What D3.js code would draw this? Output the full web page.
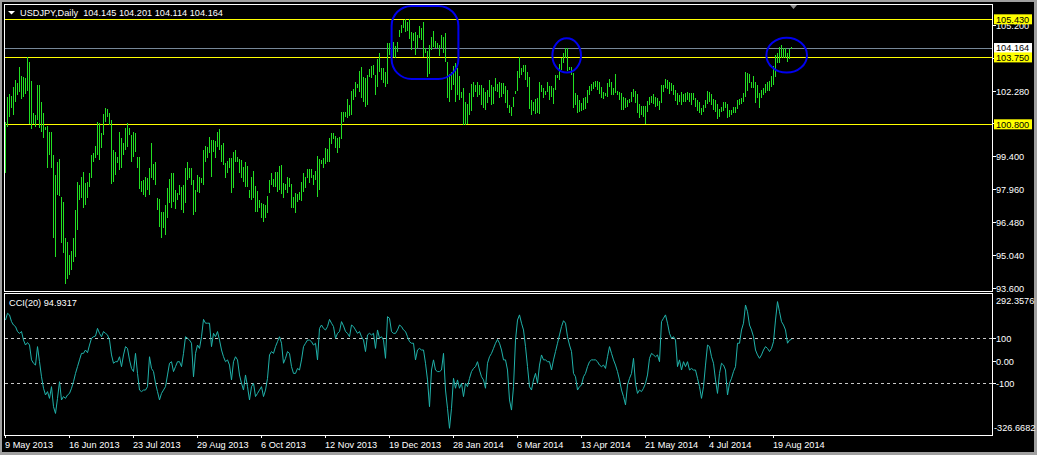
<!DOCTYPE html>
<html><head><meta charset="utf-8">
<script src="https://cdn.jsdelivr.net/npm/d3@7"></script>
<style>html,body{margin:0;padding:0;background:#000;overflow:hidden}svg{display:block}</style>
</head><body>
<svg id="c" width="1037" height="455"></svg>
<script>
// ---------- DATA ----------
const symbolTitle = "USDJPY,Daily  104.145 104.201 104.114 104.164";
const cciTitle = "CCI(20) 94.9317";
const highs = [
100.89,101.99,102.12,102.06,102.46,102.75,102.61,103.34,102.93,102.90,
102.86,103.75,103.56,102.71,101.28,101.21,102.53,102.53,101.77,101.28,
100.70,100.74,100.48,100.48,99.45,98.57,99.15,99.27,97.61,97.39,
95.77,95.60,95.04,95.21,95.77,97.02,98.27,98.12,98.49,98.71,
98.20,98.27,98.64,99.45,99.52,99.86,100.89,100.84,100.40,101.24,
101.51,101.48,101.28,100.99,99.65,99.59,99.37,100.48,100.18,99.96,
100.62,100.84,100.62,100.33,100.48,100.40,99.37,99.37,98.30,98.34,
98.49,98.45,98.86,99.99,99.04,99.15,97.54,97.51,96.95,96.95,
97.24,98.01,98.39,98.64,98.67,97.90,97.76,98.12,98.05,98.12,
98.89,99.15,98.86,98.86,98.34,97.90,98.57,98.49,98.45,99.67,
99.84,99.81,100.23,100.11,100.11,100.06,100.45,100.59,99.89,99.96,
99.08,99.18,99.33,99.30,99.59,99.67,99.37,99.27,99.23,98.93,
99.15,98.96,97.90,98.49,98.74,98.08,97.87,97.46,97.31,97.27,
97.24,97.65,98.34,98.64,98.39,98.71,98.71,98.98,99.01,98.20,
98.15,98.49,98.45,98.17,97.61,97.76,97.71,97.80,98.27,98.64,
98.49,98.83,98.83,98.83,98.57,98.74,99.40,99.27,99.23,99.33,
99.77,99.71,100.21,100.40,100.40,100.30,100.18,100.26,101.33,101.36,
101.33,101.92,101.65,102.27,102.36,102.65,102.56,103.15,103.34,102.90,
102.86,102.98,103.24,103.37,103.42,102.98,103.68,103.93,103.30,103.27,
103.12,104.37,104.37,104.64,104.45,104.27,104.42,104.96,105.18,105.40,
105.44,105.33,105.43,104.89,104.83,104.89,104.74,105.15,105.06,105.33,
104.15,104.03,104.30,104.67,104.92,104.47,104.37,104.30,104.74,104.67,
104.81,103.56,103.00,103.12,103.39,103.49,103.30,102.93,102.21,102.39,
101.80,101.70,102.17,102.56,102.65,102.53,102.68,102.53,102.53,102.39,
102.21,102.31,102.75,102.53,102.46,102.83,102.56,102.65,102.61,102.61,
102.49,102.31,101.65,101.58,102.02,102.27,103.15,103.75,103.30,103.42,
103.42,103.12,102.90,101.87,101.80,101.90,101.98,102.65,102.53,102.39,
102.27,102.65,102.50,102.49,102.39,102.98,102.98,103.45,103.71,103.93,
104.15,104.15,103.34,103.34,103.05,102.17,102.09,101.87,101.75,101.98,
102.02,102.31,102.49,102.56,102.65,102.71,102.71,102.68,102.46,102.21,
102.17,102.61,102.80,102.65,102.39,103.02,102.27,102.21,102.17,102.02,
101.95,101.87,101.92,102.21,102.36,102.27,102.12,101.68,101.62,101.62,
101.62,101.83,102.02,102.06,102.12,102.02,101.95,101.83,102.53,102.53,
102.80,102.75,102.68,102.61,102.53,102.31,102.17,102.09,102.21,102.12,
102.17,102.21,102.17,102.17,102.17,101.95,101.87,101.77,101.51,101.65,
101.87,102.27,102.21,102.12,101.92,101.87,101.68,101.48,101.58,101.77,
101.80,101.68,101.43,101.43,101.58,101.58,101.87,101.92,101.95,102.17,
103.12,103.05,103.00,102.68,102.95,102.65,102.53,102.17,102.31,102.39,
102.56,102.68,102.71,102.95,103.37,103.86,103.93,104.22,104.30,104.18,
104.15,103.96,104.12,104.201];
const lows = [
98.64,100.70,101.14,101.51,101.21,101.80,102.09,102.24,101.92,102.02,
102.12,102.27,100.80,100.59,100.80,100.70,100.99,100.65,100.48,100.18,
100.55,98.86,99.45,98.86,95.77,94.96,97.68,97.65,95.55,95.11,
93.74,93.98,94.16,94.38,94.74,94.96,96.14,97.46,97.57,97.10,
97.24,97.57,98.05,98.42,99.15,99.30,99.45,99.23,99.74,100.33,
100.92,101.14,100.77,98.17,98.27,98.57,99.08,98.79,98.86,99.45,
99.67,99.81,100.33,99.15,99.37,99.59,98.86,97.95,97.83,97.68,
97.61,97.90,97.68,98.42,98.34,98.12,97.02,96.29,95.77,96.21,
95.92,96.65,97.31,97.10,97.39,97.06,97.46,97.68,97.02,96.87,
97.31,98.34,98.42,98.12,96.80,96.95,97.83,97.76,98.20,98.12,
99.15,99.30,99.52,98.49,99.59,99.30,99.81,99.67,99.15,99.01,
98.42,98.64,98.86,97.76,97.98,99.15,99.15,98.64,98.42,98.27,
98.05,98.05,97.54,97.46,97.54,96.95,96.92,97.10,96.65,96.51,
96.65,96.87,97.76,98.12,98.05,98.05,97.83,97.90,97.71,97.54,
97.90,97.76,98.05,97.12,97.12,96.90,97.39,97.46,97.42,97.83,
97.98,98.42,98.20,98.42,98.12,98.34,97.61,97.90,99.04,98.89,
99.04,99.12,99.12,99.92,100.15,99.74,99.55,99.74,100.15,100.92,
101.14,101.09,101.18,101.21,101.87,102.02,102.39,102.21,101.95,101.80,
101.58,101.65,102.90,102.83,102.98,102.09,102.46,103.12,102.75,102.61,
102.46,102.56,103.86,103.71,103.78,103.71,104.00,104.67,104.81,105.03,
104.89,104.92,104.56,104.08,104.47,103.86,104.15,104.59,104.52,103.78,
103.93,102.90,103.00,104.08,104.22,104.15,104.15,103.83,104.15,103.93,
103.56,101.98,101.77,102.31,102.53,101.80,102.09,101.87,101.95,100.77,
100.77,100.80,101.21,101.39,102.02,102.21,102.02,102.09,101.65,101.51,
101.43,101.73,102.02,101.65,101.68,102.27,102.24,101.95,102.02,102.12,
101.73,101.53,101.28,101.18,101.58,102.12,102.27,102.83,102.98,103.12,
102.75,102.46,101.48,101.21,101.39,101.24,101.28,101.24,102.21,101.98,
102.09,102.21,101.87,102.02,101.68,102.31,102.83,102.75,103.20,103.49,
103.71,103.17,103.20,102.98,101.53,101.65,101.31,101.36,101.39,101.43,
101.48,101.73,102.09,102.27,102.36,102.46,102.31,102.12,101.98,101.92,
102.06,102.02,102.46,102.09,102.09,102.17,102.09,101.87,101.43,101.43,
101.51,101.58,101.73,101.80,102.02,101.73,101.28,101.06,101.21,101.14,
100.81,101.33,101.65,101.73,101.68,101.58,101.62,101.43,101.73,102.24,
102.39,102.36,102.12,102.27,102.09,101.83,101.65,101.80,101.65,101.77,
101.77,101.87,101.80,101.65,101.87,101.58,101.39,101.28,101.21,101.36,
101.53,101.68,101.80,101.65,101.43,101.33,101.03,101.14,101.36,101.39,
101.51,101.06,101.14,101.21,101.28,101.28,101.48,101.65,101.68,101.80,
102.02,102.27,102.61,102.42,102.39,101.73,101.98,101.51,101.95,102.09,
102.17,102.27,102.27,102.46,102.53,102.90,103.49,103.49,103.74,103.74,
103.74,103.53,103.68,104.114];
const cci = [
181,211,204,174,159,152,130,122,130,92,
70,81,70,4,-11,-19,63,-4,-71,-122,
-152,-137,-167,-115,-204,-234,-167,-93,-174,-159,
-167,-152,-145,-122,-93,-56,-26,4,33,33,
48,36,70,100,107,110,144,122,107,130,
122,115,92,26,-11,-4,-4,18,-26,26,
63,55,4,-34,-48,33,-56,-130,-137,-130,
-130,-115,18,-34,-48,-100,-137,-174,-145,-130,
-115,-63,-11,-4,-48,-26,-4,-4,-26,33,
107,100,92,78,-71,33,70,55,107,184,
167,167,167,63,122,107,130,92,48,18,
-4,4,-19,-85,-4,18,4,-63,-100,-130,
-63,-115,-174,-115,-100,-159,-145,-130,-115,-159,
-130,-78,26,41,33,63,85,107,78,-11,
11,41,33,-26,-56,-56,-34,-41,4,63,
78,92,92,85,70,78,4,144,159,144,
137,152,184,167,152,100,122,130,174,155,
130,122,107,159,152,137,122,130,107,92,
41,115,122,115,122,55,137,100,107,92,
11,196,189,130,122,122,137,159,152,137,
130,107,85,78,78,4,48,55,48,48,
-11,-85,-204,-41,4,-41,-48,-48,-41,33,
-130,-211,-300,-211,-78,-122,-85,-122,-100,-159,
-100,-115,-78,-48,-34,-26,-4,-41,-71,-85,
-122,-11,18,33,55,78,95,78,48,4,
4,-41,-174,-219,-115,92,181,204,167,137,
63,-26,-115,-130,-85,-56,-100,-19,26,4,
4,-4,-4,-41,4,41,78,115,152,178,
167,107,70,41,-56,-71,-130,-115,-108,-71,
-56,-26,-4,4,4,4,-4,-19,-26,-19,
-34,18,63,33,4,-19,-48,-85,-130,-159,
-196,-108,-78,-56,11,-100,-145,-130,-137,-122,
-100,-63,11,33,26,18,26,-4,174,189,
204,167,122,100,107,92,-26,4,-41,-4,
-26,-4,-41,-34,-41,-41,-78,-115,-167,-115,
-19,70,63,18,-11,-85,-145,-56,-11,-19,
-41,-152,-100,-78,-48,-26,78,78,137,167,
248,218,159,137,107,48,26,11,26,48,
63,55,41,55,85,181,263,218,174,159,
137,78,92,94.9317];
const dateLabels = ["9 May 2013","16 Jun 2013","23 Jul 2013","29 Aug 2013","6 Oct 2013","12 Nov 2013","19 Dec 2013","28 Jan 2014","6 Mar 2014","13 Apr 2014","21 May 2014","4 Jul 2014","19 Aug 2014"];
const dateLabelBars = [0,32,64,96,128,160,192,224,256,288,320,352,384];
const priceTicks = [105.2,103.74,102.28,100.84,99.4,97.96,96.48,95.04,93.6];
const yellowLevels = [105.43,103.75,100.8];
const bidPrice = 104.164;
const cciLevels = [100,-100];
const cciTickVals = [100,0,-100];
const cciTickText = ["100","0.00","-100"];
const cciMax = 292.3576, cciMin = -326.6682;
// annotations: [startBar, endBar, topPrice, bottomPrice]
const boxNote = [193.3,226.7,106.02,102.80];
const ellipseNotes = [[273.7,288,104.59,103.08],[380.7,401,104.62,103.08]];

// ---------- DRAW ----------
const svg = d3.select("#c");
const FONT = "'Liberation Sans', Arial, sans-serif";
const W = 1037, H = 455;
const L = 4.5, R = 992.5, mainTop = 4.5, mainBot = 291, cciTop = 293.5, cciBot = 435;

svg.append("rect").attr("width",W).attr("height",H).attr("fill","#000");
// window chrome
svg.append("rect").attr("x",0).attr("y",0).attr("width",W).attr("height",2).attr("fill","#a0a0a0");
svg.append("rect").attr("x",0).attr("y",0).attr("width",2).attr("height",H).attr("fill","#a0a0a0");
svg.append("rect").attr("x",W-3).attr("y",0).attr("width",3).attr("height",H).attr("fill","#a0a0a0");
svg.append("rect").attr("x",0).attr("y",H-3).attr("width",W).attr("height",3).attr("fill","#a0a0a0");

const x = d3.scaleLinear().domain([0, highs.length-1]).range([5, 5 + 2*(highs.length-1)]);
const y = d3.scaleLinear().domain([93.449, 106.061]).range([mainBot, 5]);
const yc = d3.scaleLinear().domain([cciMin, cciMax]).range([434.3, 295]);

const px = i => Math.round(x(i)) + 0.5;

// main panel
const gMain = svg.append("g");
gMain.selectAll("line.lvl").data(yellowLevels).join("line")
  .attr("x1",5).attr("x2",R).attr("y1",d=>Math.round(y(d))+0.5).attr("y2",d=>Math.round(y(d))+0.5)
  .attr("stroke","#ffff00").attr("stroke-width",1).attr("shape-rendering","crispEdges");
gMain.append("line").attr("x1",5).attr("x2",R).attr("y1",Math.round(y(bidPrice))+0.5).attr("y2",Math.round(y(bidPrice))+0.5)
  .attr("stroke","#778899").attr("shape-rendering","crispEdges");

gMain.selectAll("line.bar").data(highs).join("line").attr("class","bar")
  .attr("x1",(d,i)=>px(i)).attr("x2",(d,i)=>px(i))
  .attr("y1",d=>y(d)).attr("y2",(d,i)=>Math.max(y(lows[i]), y(d)+1))
  .attr("stroke","#22e022").attr("stroke-width",1).attr("shape-rendering","crispEdges");

// annotations
svg.append("rect").attr("x",x(boxNote[0])).attr("y",y(boxNote[2]))
  .attr("width",x(boxNote[1])-x(boxNote[0])).attr("height",y(boxNote[3])-y(boxNote[2]))
  .attr("rx",20).attr("ry",20).attr("fill","none").attr("stroke","#0000ee").attr("stroke-width",2);
svg.selectAll("ellipse.note").data(ellipseNotes).join("ellipse")
  .attr("cx",d=>(x(d[0])+x(d[1]))/2).attr("cy",d=>(y(d[2])+y(d[3]))/2)
  .attr("rx",d=>(x(d[1])-x(d[0]))/2).attr("ry",d=>(y(d[3])-y(d[2]))/2)
  .attr("fill","none").attr("stroke","#0000ee").attr("stroke-width",2);

// cci panel
svg.selectAll("line.clvl").data(cciLevels).join("line")
  .attr("x1",5).attr("x2",R).attr("y1",d=>Math.round(yc(d))+0.5).attr("y2",d=>Math.round(yc(d))+0.5)
  .attr("stroke","#c8c8c8").attr("stroke-dasharray","3,3").attr("shape-rendering","crispEdges");
const line = d3.line().x((d,i)=>px(i)).y(d=>yc(d));
svg.append("path").attr("d", line(cci)).attr("fill","none").attr("stroke","#20b2aa").attr("stroke-width",1);

// frames
svg.append("rect").attr("x",L).attr("y",mainTop).attr("width",R-L).attr("height",mainBot-mainTop)
  .attr("fill","none").attr("stroke","#fff").attr("shape-rendering","crispEdges");
svg.append("rect").attr("x",L).attr("y",cciTop).attr("width",R-L).attr("height",cciBot-cciTop)
  .attr("fill","none").attr("stroke","#fff").attr("shape-rendering","crispEdges");

// shift marker
svg.append("path").attr("d","M790,5L797,5L793.5,9Z").attr("fill","#909090");

// titles
svg.append("path").attr("d","M8,11L15,11L11.5,14.5Z").attr("fill","#fff");
svg.append("text").attr("x",20).attr("y",16).attr("fill","#fff").attr("font-family",FONT).attr("font-size",9.2)
  .attr("xml:space","preserve").style("white-space","pre").text(symbolTitle);
svg.append("text").attr("x",9).attr("y",306).attr("fill","#fff").attr("font-family",FONT).attr("font-size",9.2).text(cciTitle);

// price axis
const axisG = svg.append("g");
priceTicks.forEach(p=>{
  const yy = Math.round(y(p))+0.5;
  axisG.append("line").attr("x1",R).attr("x2",R+3).attr("y1",yy).attr("y2",yy).attr("stroke","#fff").attr("shape-rendering","crispEdges");
  axisG.append("text").attr("x",996).attr("y",yy+3.3).attr("fill","#fff").attr("font-family",FONT).attr("font-size",9.2).text(d3.format(".3f")(p));
});
function tagLabel(p, bg, fg){
  const yy = y(p);
  axisG.append("rect").attr("x",994).attr("y",yy-5).attr("width",38).attr("height",10).attr("fill",bg);
  axisG.append("text").attr("x",996).attr("y",yy+3.3).attr("fill",fg).attr("font-family",FONT).attr("font-size",9.2).text(d3.format(".3f")(p));
}
tagLabel(bidPrice, "#ffffff", "#000");
yellowLevels.forEach(p=>tagLabel(p,"#ffff00","#000"));

// cci axis
cciTickVals.forEach((v,k)=>{
  const yy = Math.round(yc(v))+0.5;
  axisG.append("line").attr("x1",R).attr("x2",R+3).attr("y1",yy).attr("y2",yy).attr("stroke","#fff").attr("shape-rendering","crispEdges");
  axisG.append("text").attr("x",996).attr("y",yy+3.3).attr("fill","#fff").attr("font-family",FONT).attr("font-size",9.2).text(cciTickText[k]);
});
axisG.append("text").attr("x",996).attr("y",yc(cciMax)+9).attr("fill","#fff").attr("font-family",FONT).attr("font-size",9.2).text(cciMax.toFixed(4));
axisG.append("text").attr("x",994).attr("y",yc(cciMin)-3).attr("fill","#fff").attr("font-family",FONT).attr("font-size",9.2).text(cciMin.toFixed(4));

// date axis
dateLabelBars.forEach((b,k)=>{
  const xx = Math.round(x(b))+0.5;
  axisG.append("line").attr("x1",xx).attr("x2",xx).attr("y1",cciBot).attr("y2",cciBot+3).attr("stroke","#fff").attr("shape-rendering","crispEdges");
  axisG.append("text").attr("x",xx-0.5).attr("y",448).attr("fill","#fff").attr("font-family",FONT).attr("font-size",9.2).text(dateLabels[k]);
});
</script>
</body></html>
